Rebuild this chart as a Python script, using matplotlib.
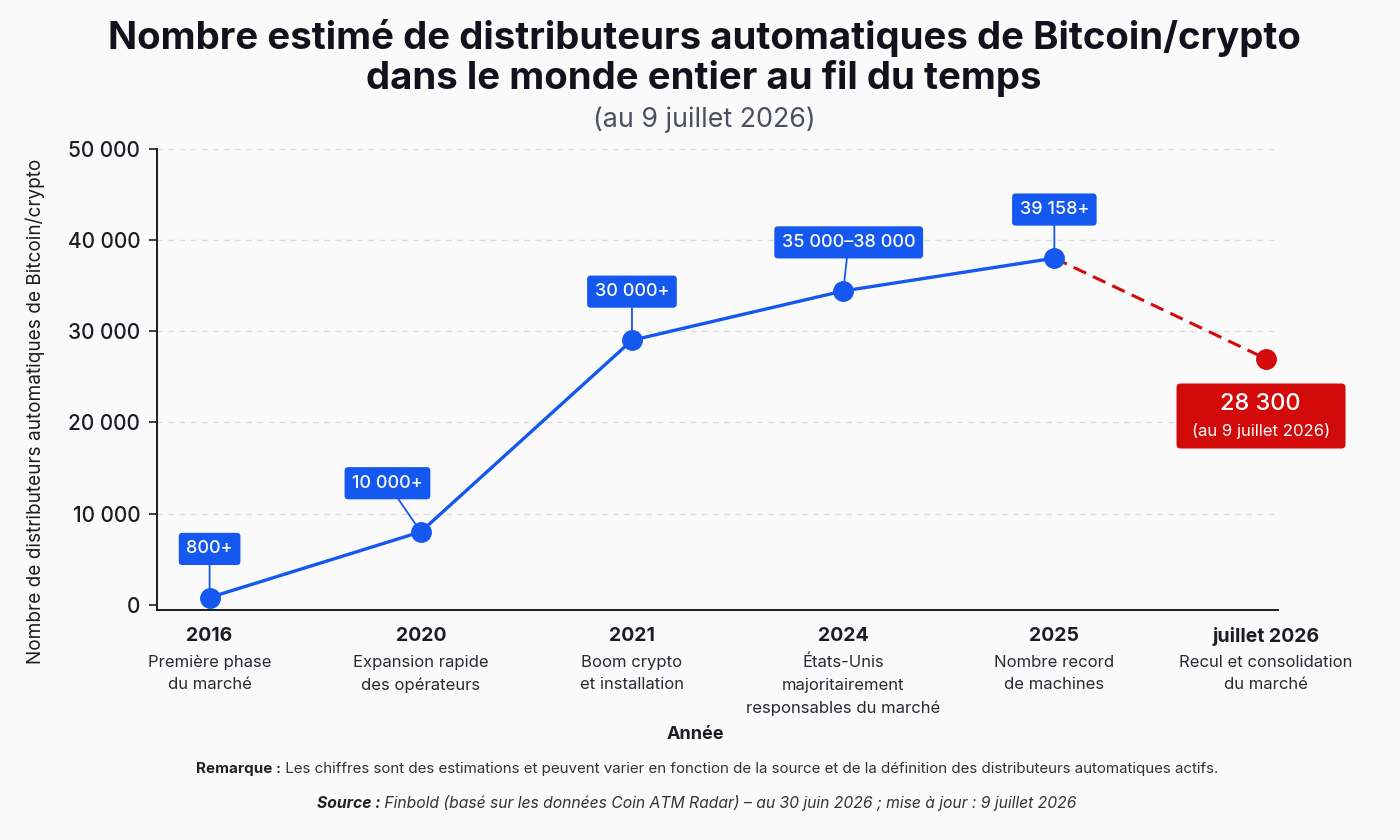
import matplotlib
matplotlib.use("Agg")
import matplotlib.pyplot as plt
from matplotlib.ticker import FuncFormatter
from matplotlib.patches import FancyBboxPatch
from matplotlib.transforms import ScaledTranslation

# Données
annees = ["2016", "2020", "2021", "2024", "2025", "juillet 2026"]
descriptions = [
    "Première phase\ndu marché",
    "Expansion rapide\ndes opérateurs",
    "Boom crypto\net installation",
    "États-Unis\nmajoritairement\nresponsables du marché",
    "Nombre record\nde machines",
    "Recul et consolidation\ndu marché",
]
valeurs = [800, 8000, 29000, 34400, 38000, 27000]
etiquettes = ["800+", "10 000+", "30 000+", "35 000–38 000", "39 158+"]
valeur_finale = "28 300"
date_finale = "(au 9 juillet 2026)"

plt.rcParams["font.family"] = ["Inter", "DejaVu Sans"]

BLEU = "#1558f0"
ROUGE = "#d20a0a"
FOND = "#fafafa"
TEXTE = "#1c1c24"

fig = plt.figure(figsize=(14, 8.4), dpi=100, facecolor=FOND)
ax = fig.add_axes([0.112, 0.274, 0.801, 0.549], facecolor=FOND)

x = list(range(len(annees)))

# Courbe bleue (2016 -> 2025) et baisse en pointillés rouges
ax.plot(x[:-1], valeurs[:-1], color=BLEU, lw=2.4, marker="o", ms=14,
        mec=BLEU, mfc=BLEU, zorder=3)
ax.plot(x[-2:], valeurs[-2:], color=ROUGE, lw=2.2, ls=(0, (4.5, 2.5)), zorder=2)
ax.plot(x[-1], valeurs[-1], "o", color=ROUGE, ms=14, zorder=3)

# Étiquettes bleues au-dessus des points
decalages = [0, -24, 0, 4, 0]
for i, txt in enumerate(etiquettes):
    ax.annotate(txt, xy=(x[i], valeurs[i]), xytext=(decalages[i], 35),
                textcoords="offset points", ha="center", va="center",
                color="white", fontsize=13, fontweight="medium",
                bbox=dict(boxstyle="round,pad=0.42,rounding_size=0.2",
                          fc=BLEU, ec="none"),
                arrowprops=dict(arrowstyle="-", color=BLEU, lw=1.3,
                                shrinkA=0, shrinkB=7),
                zorder=4)

# Encadré rouge final (taille en pouces, ancré sur le dernier point)
trans = fig.dpi_scale_trans + ScaledTranslation(x[-1], valeurs[-1], ax.transData)
ax.add_patch(FancyBboxPatch((-0.89, -0.90), 1.69, 0.65,
                            boxstyle="round,pad=0,rounding_size=0.04",
                            fc=ROUGE, ec="none", transform=trans,
                            clip_on=False, zorder=4))
ax.annotate(valeur_finale, xy=(x[-1], valeurs[-1]), xytext=(-3.5, -33),
            textcoords="offset points", ha="center", va="center",
            color="white", fontsize=17, fontweight="medium", zorder=6)
ax.annotate(date_finale, xy=(x[-1], valeurs[-1]), xytext=(-3.5, -52.5),
            textcoords="offset points", ha="center", va="center",
            color="white", fontsize=12, zorder=6)

# Axes
ax.set_xlim(-0.25, 5.06)
ax.set_ylim(-550, 50000)
ax.set_yticks([0, 10000, 20000, 30000, 40000, 50000])
ax.yaxis.set_major_formatter(FuncFormatter(lambda v, p: f"{int(v):,}".replace(",", " ")))
ax.tick_params(axis="y", labelsize=15, colors=TEXTE, length=6, width=1.2, pad=6)
for lab in ax.get_yticklabels():
    lab.set_fontweight("medium")
ax.set_xticks(x)
ax.set_xticklabels(annees, fontsize=14, fontweight="bold", color=TEXTE)
ax.tick_params(axis="x", length=0, pad=12)

for i, d in enumerate(descriptions):
    ax.annotate(d, xy=(x[i], 0), xycoords=("data", "axes fraction"),
                xytext=(0, -32.5), textcoords="offset points", ha="center",
                va="top", fontsize=12, color="#2a2a33", linespacing=1.6)

for v in [10000, 20000, 30000, 40000, 50000]:
    ax.axhline(v, color="#d8dbe0", lw=1, ls=(0, (4, 4)), zorder=0)

for s in ["top", "right"]:
    ax.spines[s].set_visible(False)
ax.spines["left"].set_color(TEXTE)
ax.spines["bottom"].set_color(TEXTE)
ax.spines["left"].set_linewidth(1.4)
ax.spines["bottom"].set_linewidth(1.4)

ax.set_ylabel("Nombre de distributeurs automatiques de Bitcoin/crypto",
              fontsize=13.7, color=TEXTE)
ax.yaxis.set_label_coords(-0.1, 0.43)

fig.text(0.497, 0.126, "Année", ha="center", va="center", fontsize=13,
         fontweight="bold", color=TEXTE)

# Titres
fig.text(0.503, 0.955, "Nombre estimé de distributeurs automatiques de Bitcoin/crypto",
         ha="center", va="center", fontsize=27.6, fontweight="bold", color="#12121c")
fig.text(0.503, 0.906, "dans le monde entier au fil du temps",
         ha="center", va="center", fontsize=27.6, fontweight="bold", color="#12121c")
fig.text(0.503, 0.858, "(au 9 juillet 2026)", ha="center", va="center",
         fontsize=19.3, color="#4b4f60")

# Notes de bas de page (partie en gras + reste)
renderer = fig.canvas.get_renderer()


def ligne_mixte(xc, y, gras, normal, style, taille):
    t1 = fig.text(0, y, gras, ha="left", va="center", fontsize=taille,
                  fontweight="bold", fontstyle=style, color="#222")
    t2 = fig.text(0, y, normal, ha="left", va="center", fontsize=taille,
                  fontstyle=style, color="#333")
    w1 = t1.get_window_extent(renderer).width
    w2 = t2.get_window_extent(renderer).width
    x0 = xc - (w1 + w2) / 2
    t1.set_x(x0 / 1400)
    t2.set_x((x0 + w1) / 1400)


ligne_mixte(707, 1 - 769 / 840, "Remarque :",
            " Les chiffres sont des estimations et peuvent varier en fonction de la source et de la définition des distributeurs automatiques actifs.",
            "normal", 10.9)
ligne_mixte(697, 1 - 803 / 840, "Source :",
            " Finbold (basé sur les données Coin ATM Radar) – au 30 juin 2026 ; mise à jour : 9 juillet 2026",
            "italic", 11.3)

fig.savefig("out.png", dpi=100, facecolor=FOND)
